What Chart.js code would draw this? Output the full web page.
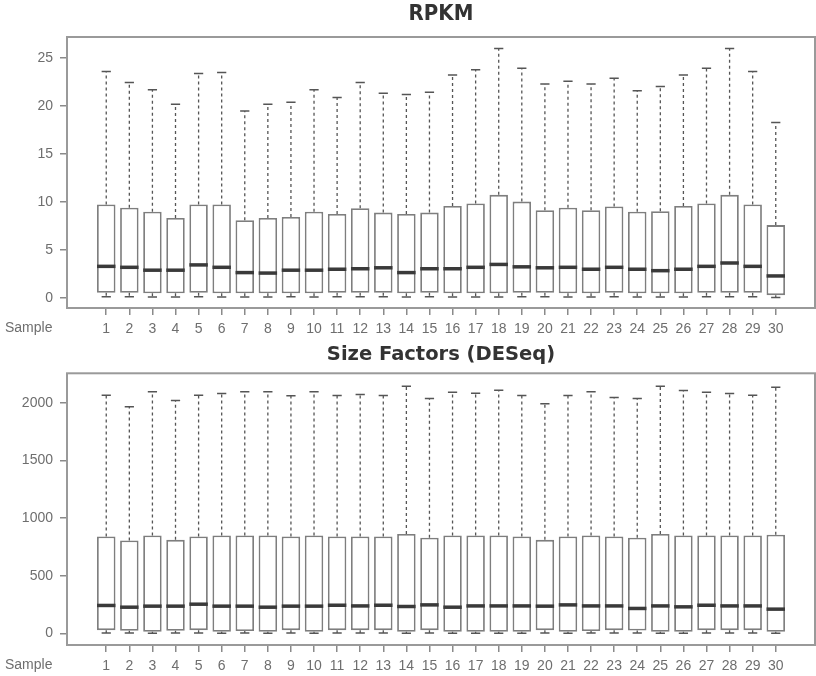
<!DOCTYPE html>
<html>
<head>
<meta charset="utf-8">
<title>RPKM and DESeq size factors</title>
<script src="https://cdn.jsdelivr.net/npm/chart.js@4"></script>
<style>
  body { margin: 0; background: #fff; }
  canvas { display: block; }
</style>
</head>
<body>
<canvas id="rpkmChart" width="816" height="338"></canvas>
<canvas id="sizeFactorChart" width="816" height="338"></canvas>
<script>
var samples = [1, 2, 3, 4, 5, 6, 7, 8, 9, 10, 11, 12, 13, 14, 15,
               16, 17, 18, 19, 20, 21, 22, 23, 24, 25, 26, 27, 28, 29, 30];

// RPKM per sample: whisker ends, quartiles, median
var rpkmMax = [23.6, 22.45, 21.7, 20.2, 23.4, 23.5, 19.5, 20.2, 20.4, 21.7, 20.9, 22.45, 21.35, 21.2, 21.45,
               23.25, 23.8, 26.0, 23.95, 22.3, 22.6, 22.3, 22.9, 21.6, 22.05, 23.25, 23.95, 26.0, 23.6, 18.3];
var rpkmQ3 = [9.75, 9.4, 9.0, 8.35, 9.75, 9.75, 8.1, 8.35, 8.45, 9.0, 8.75, 9.35, 8.9, 8.75, 8.9,
              9.6, 9.85, 10.75, 10.05, 9.15, 9.4, 9.15, 9.55, 9.0, 9.05, 9.6, 9.85, 10.75, 9.75, 7.6];
var rpkmMedian = [3.3, 3.2, 2.9, 2.9, 3.45, 3.2, 2.65, 2.6, 2.9, 2.9, 3.0, 3.05, 3.15, 2.65, 3.05,
                  3.05, 3.2, 3.5, 3.25, 3.15, 3.2, 3.0, 3.2, 3.0, 2.85, 3.0, 3.3, 3.65, 3.3, 2.3];
var rpkmQ1 = [0.55, 0.55, 0.5, 0.5, 0.55, 0.5, 0.5, 0.5, 0.5, 0.5, 0.55, 0.55, 0.55, 0.5, 0.55,
              0.5, 0.5, 0.5, 0.55, 0.55, 0.5, 0.5, 0.55, 0.5, 0.5, 0.5, 0.55, 0.55, 0.55, 0.3];
var rpkmMin = [0.12, 0.12, 0.1, 0.1, 0.12, 0.1, 0.1, 0.1, 0.12, 0.1, 0.12, 0.12, 0.12, 0.1, 0.12,
               0.1, 0.1, 0.1, 0.12, 0.12, 0.1, 0.1, 0.12, 0.1, 0.1, 0.1, 0.12, 0.12, 0.12, 0.05];
var rpkmTicks = [0, 5, 10, 15, 20, 25];

// DESeq size-factor normalised counts per sample
var sfMax = [2066, 1966, 2095, 2020, 2066, 2081, 2095, 2095, 2061, 2095, 2064, 2072, 2064, 2144, 2038,
             2092, 2084, 2110, 2064, 1991, 2064, 2095, 2046, 2038, 2144, 2107, 2092, 2081, 2066, 2136];
var sfQ3 = [840, 806, 849, 811, 840, 849, 849, 849, 840, 849, 840, 840, 840, 863, 829,
            849, 849, 849, 840, 811, 840, 849, 840, 829, 863, 849, 849, 849, 849, 855];
var sfMedian = [242, 227, 236, 236, 253, 236, 236, 227, 236, 236, 244, 238, 244, 233, 247,
                227, 238, 238, 238, 236, 247, 238, 238, 216, 238, 230, 244, 238, 238, 210];
var sfQ1 = [28, 22, 14, 22, 28, 14, 20, 14, 28, 14, 28, 28, 28, 14, 28,
            14, 14, 14, 14, 28, 14, 20, 28, 24, 14, 14, 28, 28, 28, 14];
var sfMin = [4, 4, 2, 4, 4, 2, 4, 2, 4, 2, 4, 4, 4, 2, 4,
             2, 2, 2, 2, 4, 2, 4, 4, 4, 2, 2, 4, 4, 4, 2];
var sfTicks = [0, 500, 1000, 1500, 2000];

var tickFont = { family: "'Liberation Sans', Arial, sans-serif", size: 14 };
var tickColor = '#6e6e6e';

// whiskers, caps, medians, the frame and the "Sample" label on top of the boxes
function boxExtras(lo, med, hi, q1, q3) {
    return {
        id: 'boxExtras',
        afterDatasetsDraw: function(chart) {
            var ctx = chart.ctx;
            var ys = chart.scales.y;
            var area = chart.chartArea;
            var bars = chart.getDatasetMeta(0).data;
            ctx.save();
            bars.forEach(function(bar, i) {
                var x = bar.x;
                var half = bar.width / 2;
                var cap = half / 2;
                var yHi = ys.getPixelForValue(hi[i]);
                var yLo = ys.getPixelForValue(lo[i]);

                ctx.strokeStyle = '#555';
                ctx.lineWidth = 1.3;
                ctx.setLineDash([3, 3]);
                ctx.beginPath();
                ctx.moveTo(x, ys.getPixelForValue(q3[i]));
                ctx.lineTo(x, yHi);
                ctx.moveTo(x, ys.getPixelForValue(q1[i]));
                ctx.lineTo(x, yLo);
                ctx.stroke();

                ctx.setLineDash([]);
                ctx.lineWidth = 1.5;
                ctx.beginPath();
                ctx.moveTo(x - cap, yHi);
                ctx.lineTo(x + cap, yHi);
                ctx.moveTo(x - cap, yLo);
                ctx.lineTo(x + cap, yLo);
                ctx.stroke();

                var yMed = ys.getPixelForValue(med[i]);
                ctx.strokeStyle = '#3a3a3a';
                ctx.lineWidth = 3.5;
                ctx.beginPath();
                ctx.moveTo(x - half, yMed);
                ctx.lineTo(x + half, yMed);
                ctx.stroke();
            });

            ctx.strokeStyle = '#9a9a9a';
            ctx.lineWidth = 2;
            ctx.strokeRect(area.left, area.top, area.right - area.left, area.bottom - area.top);

            ctx.fillStyle = tickColor;
            ctx.font = '14px ' + tickFont.family;
            ctx.textAlign = 'left';
            ctx.textBaseline = 'top';
            ctx.fillText('Sample', 5, area.bottom + 13);
            ctx.restore();
        }
    };
}

function makeBoxChart(id, title, titleFont, titlePad, stats, yMin, yMax, yTicks, xHeight) {
    var ctx = document.getElementById(id).getContext('2d');
    return new Chart(ctx, {
        type: 'bar',
        data: {
            datasets: [{
                data: samples.map(function(s, i) { return { x: s, y: [stats.q1[i], stats.q3[i]] }; }),
                backgroundColor: '#ffffff',
                borderColor: '#7e7e7e',
                borderWidth: 1.8,
                borderSkipped: false,
                categoryPercentage: 1,
                barPercentage: 0.8
            }]
        },
        options: {
            responsive: false,
            animation: false,
            events: [],
            layout: { padding: { left: 0, right: 1, top: 0, bottom: 0 } },
            plugins: {
                legend: { display: false },
                tooltip: { enabled: false },
                title: {
                    display: true,
                    text: title,
                    fullSize: false,
                    color: '#333',
                    font: titleFont,
                    padding: titlePad
                }
            },
            scales: {
                x: {
                    type: 'linear',
                    offset: false,
                    min: -0.7,
                    max: 31.7,
                    afterBuildTicks: function(scale) {
                        scale.ticks = samples.map(function(s) { return { value: s }; });
                    },
                    afterFit: function(scale) { scale.height = xHeight; },
                    grid: { offset: false, drawOnChartArea: false, tickLength: 7, color: '#8a8a8a', lineWidth: 1.5 },
                    border: { display: false },
                    ticks: {
                        autoSkip: false, maxRotation: 0, padding: 6, color: tickColor, font: tickFont,
                        callback: function(v) { return String(v); }
                    }
                },
                y: {
                    min: yMin,
                    max: yMax,
                    afterBuildTicks: function(scale) {
                        scale.ticks = yTicks.map(function(v) { return { value: v }; });
                    },
                    afterFit: function(scale) { scale.width = 67; },
                    grid: { drawOnChartArea: false, tickLength: 7, color: '#8a8a8a', lineWidth: 1.5 },
                    border: { display: false },
                    ticks: {
                        padding: 7, color: tickColor, font: tickFont,
                        callback: function(v) { return String(v); }
                    }
                }
            }
        },
        plugins: [boxExtras(stats.min, stats.median, stats.max, stats.q1, stats.q3)]
    });
}

makeBoxChart('rpkmChart', 'RPKM',
    { family: "'Liberation Sans Narrow', 'DejaVu Sans Condensed', sans-serif", size: 22, weight: 'bold', lineHeight: 1.2 },
    { top: 1, bottom: 9.6 },
    { min: rpkmMin, q1: rpkmQ1, median: rpkmMedian, q3: rpkmQ3, max: rpkmMax },
    -1.04, 27.2, rpkmTicks, 30);

makeBoxChart('sizeFactorChart', 'Size Factors (DESeq)',
    { family: "'DejaVu Sans', sans-serif", size: 19.5, weight: 'bold', lineHeight: 1.2 },
    { top: 5.3, bottom: 6.6 },
    { min: sfMin, q1: sfQ1, median: sfMedian, q3: sfQ3, max: sfMax },
    -101, 2256, sfTicks, 31);
</script>
</body>
</html>
